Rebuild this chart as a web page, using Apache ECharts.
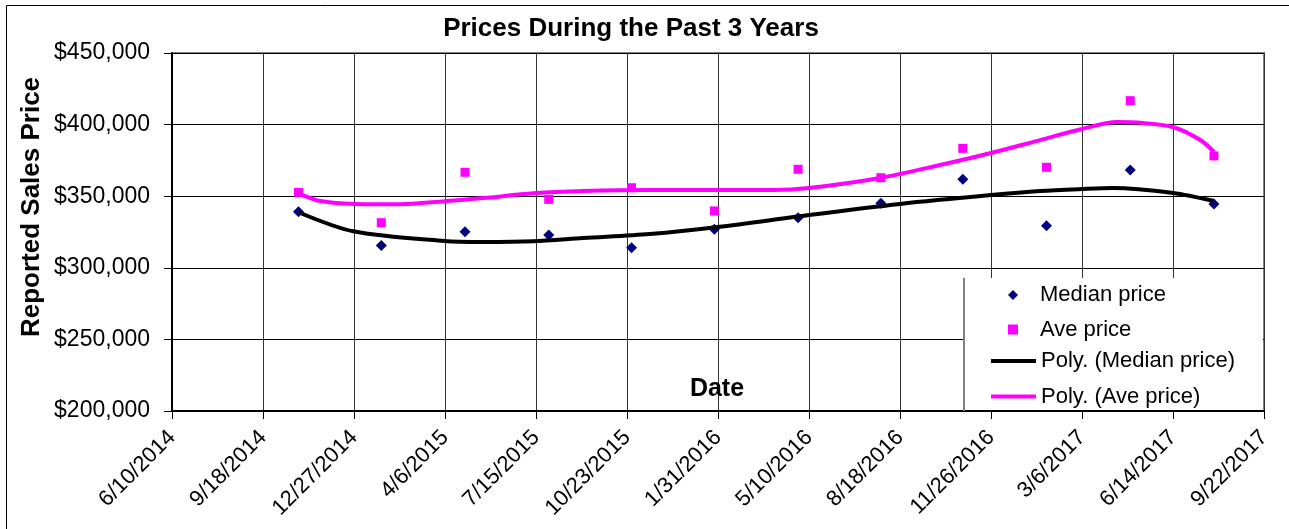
<!DOCTYPE html>
<html>
<head>
<meta charset="utf-8">
<title>Prices During the Past 3 Years</title>
<script src="https://cdn.jsdelivr.net/npm/echarts@6.0.0/dist/echarts.min.js"></script>
<style>
  html, body { margin: 0; padding: 0; background: #fff; }
  #chart { width: 1289px; height: 529px; }
</style>
</head>
<body>
<div id="chart"></div>
<script>
// sale dates (quarterly) and reported prices
const saleDates = ['10/27/2014', '1/26/2015', '4/28/2015', '7/29/2015', '10/28/2015', '1/27/2016',
  '4/28/2016', '7/28/2016', '10/26/2016', '1/26/2017', '4/28/2017', '7/29/2017']
const medianPrice = [339200, 315500, 325200, 322900, 314000, 326900, 335000, 345000, 361800, 329400, 368300, 344600]
const avePrice = [352700, 331500, 366700, 347800, 355900, 339700, 368800, 362900, 383400, 370200, 416700, 378100]

// trendlines (x = Excel date serial)
const medianTrendX = [41939, 41999, 42099, 42142, 42197, 42252, 42325, 42400, 42500, 42600, 42700, 42754, 42800, 42834, 42900, 42945]
const medianTrendY = [338800, 325500, 318700, 318000, 318500, 320800, 323600, 328500, 336900, 344600, 350800, 353600, 355000, 355700, 352200, 346600]
const aveTrendX = [41939, 41963, 42001, 42051, 42099, 42142, 42197, 42252, 42325, 42460, 42500, 42578, 42644, 42700, 42754, 42800, 42838, 42867, 42900, 42930, 42945]
const aveTrendY = [352000, 346600, 344600, 344400, 346500, 348700, 352000, 353600, 354300, 354300, 355700, 362700, 371800, 380200, 389200, 396900, 401800, 401100, 398300, 389200, 380900]

// axis range (Excel serials: 41800 = 6/10/2014, step 100 days)
const xMin = 41800
const xMax = 43000
const xStep = 100
const yMin = 200000
const yMax = 450000
const yStep = 50000

const FONT = '"Liberation Sans", Arial, sans-serif'
const EXCEL_EPOCH = Date.UTC(1899, 11, 30)

function toSerial (s) {
  const [m, d, y] = s.split('/').map(Number)
  return Math.round((Date.UTC(y, m - 1, d) - EXCEL_EPOCH) / 86400000)
}
function serialLabel (v) {
  const dt = new Date(EXCEL_EPOCH + v * 86400000)
  return (dt.getUTCMonth() + 1) + '/' + dt.getUTCDate() + '/' + dt.getUTCFullYear()
}
function zip (xs, ys) {
  return xs.map((x, i) => [x, ys[i]])
}

const saleX = saleDates.map(toSerial)

const legendText = { fontSize: 22, lineHeight: 20, color: '#000', fontFamily: FONT }

const chart = echarts.init(document.getElementById('chart'))

const option = {
  animation: false,
  backgroundColor: '#fff',
  textStyle: { fontFamily: FONT },
  grid: {
    left: 172,
    top: 53,
    right: 25,
    bottom: 118,
    show: true,
    borderColor: '#808080',
    borderWidth: 2
  },
  xAxis: {
    type: 'value',
    min: xMin,
    max: xMax,
    interval: xStep,
    axisLine: { lineStyle: { color: '#000', width: 2 } },
    axisTick: { show: true, length: 8, lineStyle: { color: '#000' } },
    splitLine: { show: true, lineStyle: { color: '#333', width: 1 } },
    axisLabel: {
      rotate: 45,
      margin: 23,
      align: 'right',
      verticalAlign: 'middle',
      fontSize: 22,
      color: '#000',
      fontFamily: FONT,
      showMinLabel: true,
      showMaxLabel: true,
      formatter: serialLabel
    }
  },
  yAxis: {
    type: 'value',
    min: yMin,
    max: yMax,
    interval: yStep,
    axisLine: { show: true, lineStyle: { color: '#000', width: 2 } },
    axisTick: { show: true, length: 8, lineStyle: { color: '#000' } },
    splitLine: { show: true, lineStyle: { color: '#000', width: 1 } },
    axisLabel: {
      margin: 22,
      fontSize: 23,
      color: '#000',
      fontFamily: FONT,
      formatter: v => '$' + v.toLocaleString('en-US')
    }
  },
  // two legends so the marker icons keep their own size
  legend: [
    {
      orient: 'vertical',
      left: 1008,
      top: 284,
      padding: 0,
      itemWidth: 10,
      itemHeight: 10,
      itemGap: 12.5,
      z: 6,
      textStyle: Object.assign({ padding: [0, 0, 0, 17] }, legendText),
      data: [
        { name: 'Median price', icon: 'diamond' },
        { name: 'Ave price', icon: 'rect' }
      ]
    },
    {
      orient: 'vertical',
      left: 991,
      top: 350,
      padding: 0,
      itemWidth: 45,
      itemHeight: 4,
      itemGap: 13.5,
      z: 6,
      textStyle: legendText,
      data: [
        { name: 'Poly. (Median price)', icon: 'rect' },
        { name: 'Poly. (Ave price)', icon: 'rect' }
      ]
    }
  ],
  graphic: [
    {
      type: 'rect',
      silent: true,
      z: -10,
      shape: { x: 6.5, y: 5.5, width: 1400, height: 700 },
      style: { fill: 'none', stroke: '#000', lineWidth: 1 }
    },
    {
      type: 'text',
      z: 5,
      style: {
        x: 631,
        y: 29,
        text: 'Prices During the Past 3 Years',
        align: 'center',
        verticalAlign: 'middle',
        font: 'bold 26px ' + FONT,
        fill: '#000'
      }
    },
    {
      type: 'text',
      z: 5,
      x: 32,
      y: 207,
      rotation: Math.PI / 2,
      style: {
        x: 0,
        y: 0,
        text: 'Reported Sales Price',
        align: 'center',
        verticalAlign: 'middle',
        font: 'bold 26px ' + FONT,
        fill: '#000'
      }
    },
    {
      type: 'text',
      z: 5,
      style: {
        x: 717,
        y: 389,
        text: 'Date',
        align: 'center',
        verticalAlign: 'middle',
        font: 'bold 25px ' + FONT,
        fill: '#000'
      }
    },
    // legend box
    {
      type: 'rect',
      silent: true,
      z: 3,
      shape: { x: 964, y: 278, width: 299, height: 132 },
      style: { fill: '#fff', stroke: null }
    },
    {
      type: 'line',
      silent: true,
      z: 4,
      shape: { x1: 964, y1: 278, x2: 964, y2: 411 },
      style: { stroke: '#808080', lineWidth: 2 }
    }
  ],
  series: [
    {
      name: 'Median price',
      type: 'scatter',
      symbol: 'diamond',
      symbolSize: 11,
      itemStyle: { color: '#000080', opacity: 1 },
      data: zip(saleX, medianPrice)
    },
    {
      name: 'Ave price',
      type: 'scatter',
      symbol: 'rect',
      symbolSize: 9,
      itemStyle: { color: '#FF00FF', opacity: 1 },
      data: zip(saleX, avePrice)
    },
    {
      name: 'Poly. (Median price)',
      type: 'line',
      smooth: 0.3,
      symbol: 'none',
      lineStyle: { color: '#000', width: 4 },
      itemStyle: { color: '#000' },
      data: zip(medianTrendX, medianTrendY)
    },
    {
      name: 'Poly. (Ave price)',
      type: 'line',
      smooth: 0.3,
      symbol: 'none',
      lineStyle: { color: '#FF00FF', width: 4 },
      itemStyle: { color: '#FF00FF' },
      data: zip(aveTrendX, aveTrendY)
    }
  ]
}

chart.setOption(option)
window.addEventListener('resize', () => chart.resize())
</script>
</body>
</html>
